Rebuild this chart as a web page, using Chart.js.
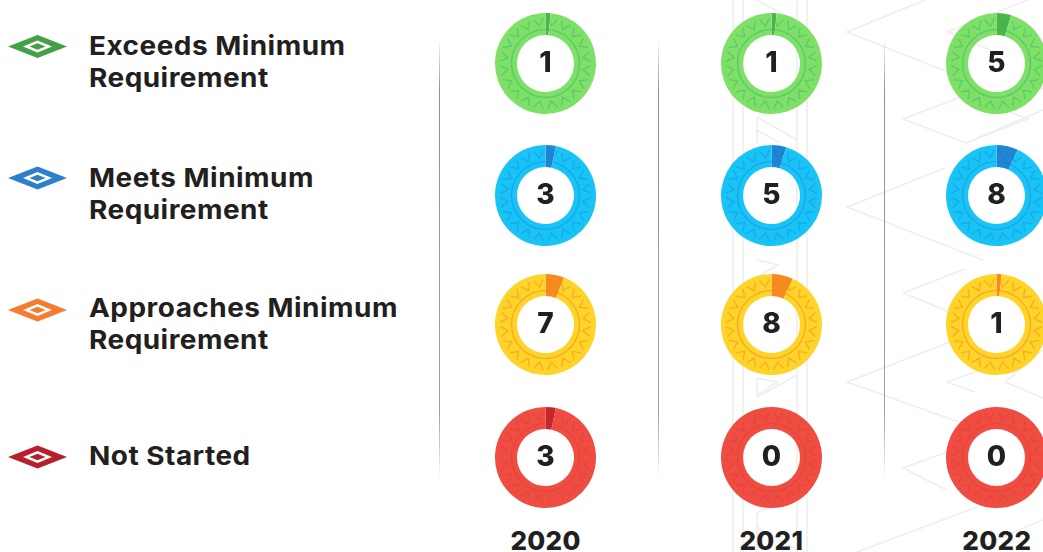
<!DOCTYPE html>
<html>
<head>
<meta charset="utf-8">
<title>Minimum requirement status by year</title>
<script src="https://cdn.jsdelivr.net/npm/chart.js@4"></script>
<style>
  html, body { margin: 0; padding: 0; background: #fff; }
  #page { position: relative; width: 1043px; height: 552px; overflow: hidden; font-family: Inter, sans-serif; color: #231f20; }
  #bg, #markers { position: absolute; left: 0; top: 0; }
  .divider { position: absolute; top: 38px; width: 1px; height: 442px; background: linear-gradient(to bottom, rgba(130,130,130,0), #909090 12%, #a0a0a0 85%, rgba(130,130,130,0)); }
  .legend-text { position: absolute; left: 89px; font-weight: 700; font-size: 26px; line-height: 32px; letter-spacing: 0.45px; white-space: pre; transform: scaleX(1.075); transform-origin: left center; }
  .year { position: absolute; top: 525px; width: 100px; text-align: center; font-weight: 800; font-size: 26px; line-height: 32px; letter-spacing: 0.3px; }
  canvas.ring { position: absolute; }
</style>
</head>
<body>
<div id="page">
  <svg id="bg" width="1043" height="552" fill="none" stroke="#eeeeee" stroke-width="1.6"></svg>
  <svg id="markers" width="80" height="552"></svg>
</div>
<script>
const years = ['2020', '2021', '2022'];
const statuses = ['Exceeds Minimum\nRequirement', 'Meets Minimum\nRequirement', 'Approaches Minimum\nRequirement', 'Not Started'];

// count printed in the middle of each ring
const counts2020 = [1, 3, 7, 3];
const counts2021 = [1, 5, 8, 0];
const counts2022 = [5, 8, 1, 0];

// size of the dark slice, percent of the ring
const share2020 = [1.6, 3.3, 6, 3.3];
const share2021 = [1.6, 4.7, 6.9, 0];
const share2022 = [4.7, 6.9, 1.6, 0];

const ringColors = ['#7fe068', '#18c3f6', '#ffd429', '#f04d42'];
const sliceColors = ['#4cb648', '#1f86d4', '#f68b1f', '#c8252d'];
const patternColors = ['rgba(40,170,110,0.4)', 'rgba(40,90,210,0.26)', 'rgba(245,130,40,0.5)', 'rgba(170,30,30,0.14)'];
const markerColors = ['#43a047', '#2e7fc9', '#f47b30', '#b71f2a'];

const columnX = [545.6, 771.3, 996.8];
const rowY = [63, 195, 324.7, 457];
const legendY = [46.5, 178, 310, 457];
const legendTop = [30, 162, 292, 440];
const allCounts = [counts2020, counts2021, counts2022];
const allShares = [share2020, share2021, share2022];

const page = document.getElementById('page');

// faint zigzag backdrop
const bgLines = [
  '733,0 733,552', '743,0 743,552', '797,0 797,552', '807,0 807,552',
  '757,0 797,22', '757,117 797,140', '757,130 780,143', '757,117 757,143',
  '757,260 778,265 757,277', '757,378 778,382 757,395', '757,397 797,375', '757,378 757,397',
  '757,513 797,495', '757,527 797,550', '757,513 757,552',
  '930,-2 847,32 948,72', '947,32 1043,-6', '947,32 990,50',
  '903,119 966,95 1028,119 966,143 903,119', '966,143 1043,110', '1000,105 1043,88',
  '945,168 847,207 983,260', '903,293 965,269', '903,293 950,312',
  '950,342 847,382 967,425', '947,382 975,372', '947,382 975,392',
  '1043,350 1005,382 1043,398', '947,452 903,468 947,490',
  '857,552 977,507', '967,552 1043,520'
];
document.getElementById('bg').innerHTML = bgLines.map(p => `<polyline points="${p}"/>`).join('');

[439, 658, 884].forEach(x => {
  const d = document.createElement('div');
  d.className = 'divider';
  d.style.left = x + 'px';
  page.appendChild(d);
});

// legend
document.getElementById('markers').innerHTML = legendY.map((y, i) => `
  <polygon points="8,${y} 37.5,${y - 11.5} 67,${y} 37.5,${y + 11.5}" fill="${markerColors[i]}"/>
  <polygon points="23,${y} 37.5,${y - 6} 52,${y} 37.5,${y + 6}" fill="#fff"/>
  <polygon points="29.5,${y} 37.5,${y - 3.2} 45.5,${y} 37.5,${y + 3.2}" fill="${markerColors[i]}"/>
`).join('');

statuses.forEach((s, i) => {
  const d = document.createElement('div');
  d.className = 'legend-text';
  d.style.top = legendTop[i] + 'px';
  d.textContent = s;
  page.appendChild(d);
});

years.forEach((y, i) => {
  const d = document.createElement('div');
  d.className = 'year';
  d.style.left = (columnX[i] - 50) + 'px';
  d.textContent = y;
  page.appendChild(d);
});

// tribal band on the ring plus the count in the hole
const ringDecor = {
  id: 'ringDecor',
  afterDatasetsDraw(chart, args, opts) {
    const { ctx } = chart;
    const arc = chart.getDatasetMeta(0).data[0];
    const cx = arc.x, cy = arc.y;
    ctx.save();
    ctx.strokeStyle = opts.pattern;
    ctx.lineWidth = 1.5;
    ctx.beginPath();
    ctx.arc(cx, cy, 34, 0, Math.PI * 2);
    ctx.stroke();
    const n = 20;
    const pt = (r, t) => [cx + r * Math.cos(t), cy + r * Math.sin(t)];
    ctx.lineWidth = 1.3;
    for (let i = 0; i < n; i++) {
      const a = i / n * Math.PI * 2 + Math.PI / n;
      const w = 0.11;
      ctx.beginPath();
      ctx.moveTo(...pt(45.5, a - w));
      ctx.lineTo(...pt(38, a));
      ctx.lineTo(...pt(45.5, a + w));
      ctx.stroke();
    }
    ctx.fillStyle = '#231f20';
    ctx.font = '800 28px Inter, sans-serif';
    ctx.textAlign = 'center';
    ctx.textBaseline = 'middle';
    ctx.fillText(String(opts.count), cx, cy);
    ctx.restore();
  }
};

allCounts.forEach((counts, col) => {
  counts.forEach((count, row) => {
    const cv = document.createElement('canvas');
    cv.className = 'ring';
    cv.width = 103;
    cv.height = 103;
    cv.style.left = (columnX[col] - 51.5) + 'px';
    cv.style.top = (rowY[row] - 51.5) + 'px';
    page.appendChild(cv);
    const share = allShares[col][row];
    new Chart(cv, {
      type: 'doughnut',
      data: {
        labels: [statuses[row].replace('\n', ' '), 'Rest'],
        datasets: [{
          data: [share, 100 - share],
          backgroundColor: [sliceColors[row], ringColors[row]],
          borderWidth: 0,
        }],
      },
      options: {
        responsive: false,
        animation: false,
        cutout: '56.4%',
        layout: { padding: 1 },
        plugins: {
          legend: { display: false },
          tooltip: { enabled: false },
          ringDecor: { count, pattern: patternColors[row] },
        },
      },
      plugins: [ringDecor],
    });
  });
});
</script>
</body>
</html>
